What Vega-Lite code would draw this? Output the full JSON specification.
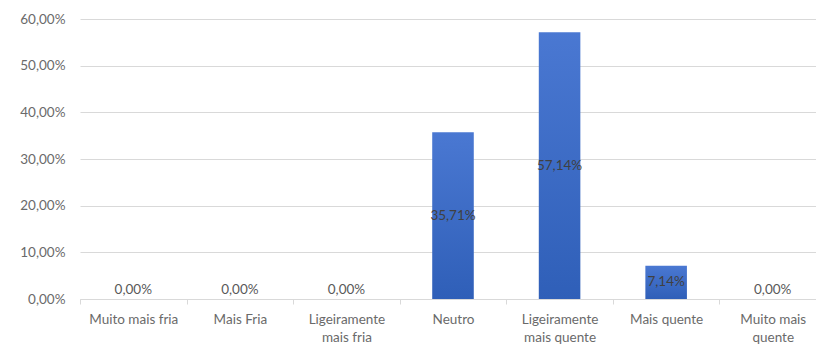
{
  "$schema": "https://vega.github.io/schema/vega-lite/v6.json",
  "width": 736,
  "height": 280,
  "autosize": {"type": "none"},
  "padding": {"left": 80, "top": 19, "right": 0, "bottom": 50},
  "background": "white",
  "config": {
    "locale": {"number": {"decimal": ",", "thousands": ".", "grouping": [3], "currency": ["", " €"]}},
    "view": {"stroke": null},
    "font": "Lato"
  },
  "data": {
    "values": [
      {"categoria": "Muito mais fria", "pct": 0},
      {"categoria": "Mais Fria", "pct": 0},
      {"categoria": "Ligeiramente mais fria", "pct": 0},
      {"categoria": "Neutro", "pct": 0.3571},
      {"categoria": "Ligeiramente mais quente", "pct": 0.5714},
      {"categoria": "Mais quente", "pct": 0.0714},
      {"categoria": "Muito mais quente", "pct": 0}
    ]
  },
  "encoding": {
    "x": {
      "field": "categoria",
      "type": "nominal",
      "sort": null,
      "scale": {"range": [0, 746], "paddingInner": 0, "paddingOuter": 0},
      "axis": {
        "title": null,
        "labelAngle": 0,
        "labelColor": "#6a6a6a",
        "labelFontSize": 13.5,
        "labelPadding": 8,
        "labelLineHeight": 18,
        "labelBaseline": "top",
        "domainColor": "#d9d9d9",
        "tickColor": "#d9d9d9",
        "tickSize": 5,
        "tickBand": "extent",
        "labelExpr": "datum.value == 'Ligeiramente mais fria' ? ['Ligeiramente', 'mais fria'] : datum.value == 'Ligeiramente mais quente' ? ['Ligeiramente', 'mais quente'] : datum.value == 'Muito mais quente' ? ['Muito mais', 'quente'] : datum.value"
      }
    }
  },
  "layer": [
    {
      "mark": {
        "type": "bar",
        "width": {"band": 0.39},
        "color": {
          "gradient": "linear",
          "x1": 0, "y1": 0, "x2": 0, "y2": 1,
          "stops": [
            {"offset": 0, "color": "#4a78d2"},
            {"offset": 1, "color": "#2f5fb8"}
          ]
        }
      },
      "encoding": {
        "y": {
          "field": "pct",
          "type": "quantitative",
          "title": null,
          "scale": {"domain": [0, 0.6], "nice": false},
          "axis": {
            "values": [0, 0.1, 0.2, 0.3, 0.4, 0.5, 0.6],
            "format": ".2%",
            "domain": false,
            "ticks": false,
            "gridColor": "#d9d9d9",
            "gridWidth": 1.2,
            "labelColor": "#6a6a6a",
            "labelFontSize": 13.5,
            "labelPadding": 15
          }
        }
      }
    },
    {
      "transform": [
        {"filter": "datum.pct > 0"},
        {"calculate": "datum.pct / 2", "as": "meio"}
      ],
      "mark": {"type": "text", "color": "#404040", "fontSize": 13.5, "baseline": "middle"},
      "encoding": {
        "y": {"field": "meio", "type": "quantitative", "title": null},
        "text": {"field": "pct", "type": "quantitative", "format": ".2%"}
      }
    },
    {
      "transform": [{"filter": "datum.pct == 0"}],
      "mark": {"type": "text", "color": "#595959", "fontSize": 13.5, "baseline": "middle", "dy": -9},
      "encoding": {
        "y": {"field": "pct", "type": "quantitative", "title": null},
        "text": {"field": "pct", "type": "quantitative", "format": ".2%"}
      }
    }
  ]
}
